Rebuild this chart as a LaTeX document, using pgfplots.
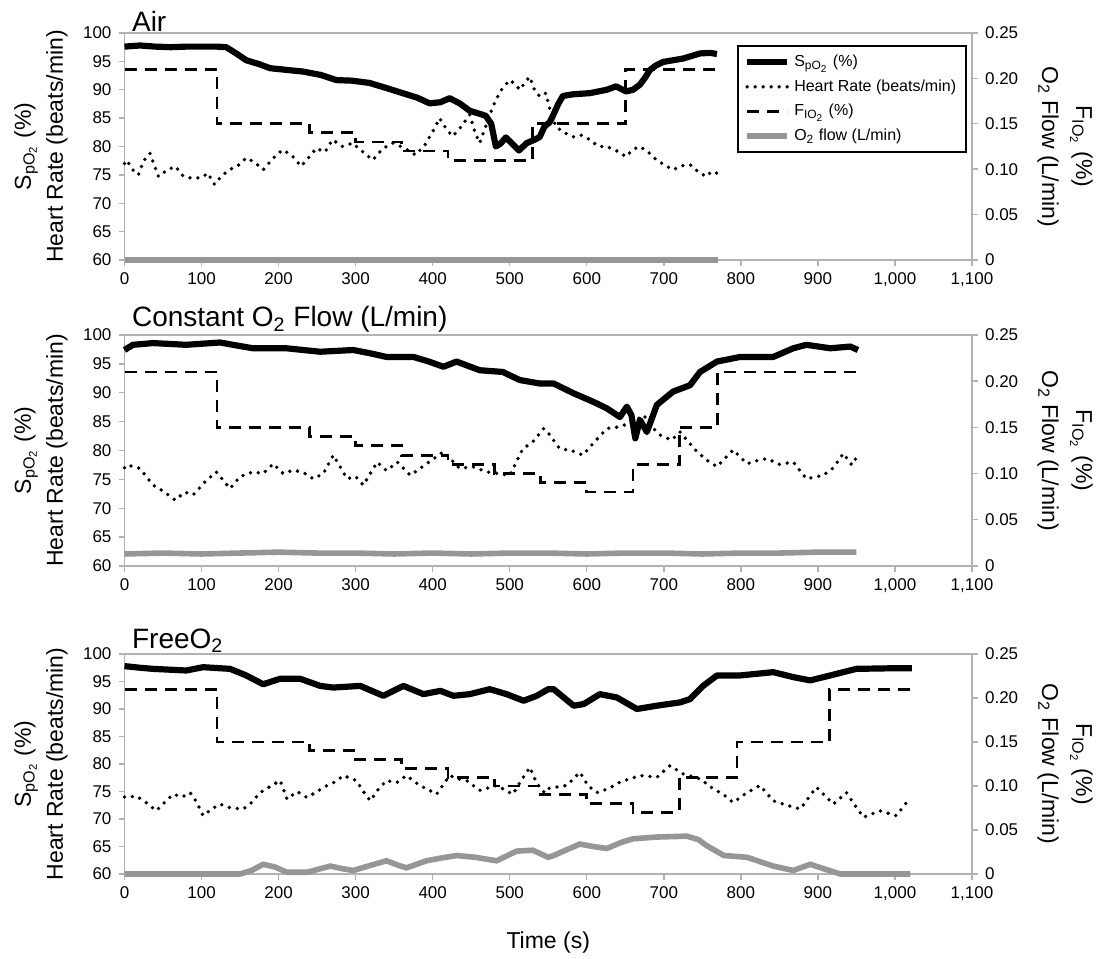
\documentclass[border=0pt]{standalone}
\usepackage{fontspec}
\setmainfont{Liberation Sans}
\usepackage{pgfplots}
\pgfplotsset{compat=1.18}

\definecolor{axgray}{RGB}{178,178,178}
\definecolor{flowgray}{RGB}{150,150,150}

\pgfplotsset{
  spo2/.style={black, line width=3.1pt, line join=round},
  hr/.style={black, line width=1.9pt, line cap=round, dash pattern=on 0pt off 4pt},
  fio2/.style={black, line width=1.4pt, dash pattern=on 6pt off 4pt},
  flow/.style={flowgray, line width=2.8pt},
  panel/.style={
    scale only axis, width=423.75pt,
    xmin=0, xmax=1100, no markers, clip=false,
    axis line style={axgray, line width=0.7pt},
    tick style={axgray, line width=0.7pt},
    major tick length=3pt, tick align=outside,
    /pgf/number format/assume math mode=true,
    ticklabel style={font=\fontsize{8.5}{10}\selectfont},
    scaled ticks=false,
    title style={at={(0,1)}, anchor=base west, inner sep=0pt, xshift=3.6pt,
      font=\fontsize{14}{16}\selectfont},
  },
  leftax/.style={panel,
    ymin=60, ymax=100,
    ytick={60,65,70,75,80,85,90,95,100},
    yticklabels={60,65,70,75,80,85,90,95,100},
    xtick={0,100,200,300,400,500,600,700,800,900,1000,1100},
    xticklabels={0,100,200,300,400,500,600,700,800,900,{1,000},{1,100}},
    xtick pos=left, ytick pos=left,
    ylabel={S\textsubscript{pO\textsubscript{2}} (\%)\\Heart Rate (beats/min)},
    every axis y label/.style={at={([xshift=-41.75pt]rel axis cs:0,0.5)},
      rotate=90, anchor=center, align=center, font=\fontsize{11.5}{16}\selectfont},
  },
  rightax/.style={panel,
    ymin=0, ymax=0.25,
    ytick={0,0.05,0.1,0.15,0.2,0.25},
    yticklabels={0,0.05,0.10,0.15,0.20,0.25},
    xtick=\empty, axis x line=none, axis y line*=right,
    ylabel={F\textsubscript{IO\textsubscript{2}} (\%)\\O\textsubscript{2} Flow (L/min)},
    every axis y label/.style={at={([xshift=46.5pt]rel axis cs:1,0.5)},
      rotate=-90, anchor=center, align=center, font=\fontsize{11.5}{17}\selectfont},
  },
}

\begin{document}
\begin{tikzpicture}
\useasboundingbox (0,0) rectangle (548.5pt,479pt);

% ---------------- Air ----------------
\begin{axis}[leftax, at={(62.25pt,349pt)}, anchor=south west, height=113.5pt,
  title={Air}, title style={yshift=-5.5pt}]
\addplot[spo2] coordinates {
 (0,97.6)(10,97.7)(20,97.8)(40,97.6)(60,97.5)(80,97.6)(100,97.6)(120,97.6)
 (132,97.5)(145,96.4)(158,95.2)(175,94.5)(189,93.8)(210,93.5)(232,93.2)
 (255,92.6)(275,91.7)(295,91.6)(318,91.2)(340,90.3)(361,89.4)(380,88.6)
 (396,87.6)(410,87.8)(422,88.5)(435,87.6)(448,86.3)(460,85.8)(469,85.4)
 (476,84.0)(482,80.0)(488,80.5)(495,81.6)(503,80.5)(512,79.3)(522,80.6)
 (534,81.3)(539,81.7)(545,83.5)(552,84.3)(556,85.4)(563,87.5)(569,88.9)
 (582,89.2)(604,89.4)(626,90.0)(638,90.6)(651,89.7)(660,90.0)(669,90.9)
 (676,92.2)(682,93.5)(690,94.3)(699,94.9)(725,95.5)(747,96.4)(760,96.5)(769,96.3)
};
\addplot[hr] coordinates {
 (0,77.0)(3,77.6)(10,76.0)(18,75.0)(25,77.5)(33,78.8)(44,74.7)(55,75.8)
 (66,76.5)(76,74.8)(87,74.4)(100,74.5)(108,75.3)(117,73.3)(126,74.8)(136,75.9)
 (147,76.6)(158,78.0)(169,77.2)(180,75.9)(192,77.8)(205,79.4)(217,78.5)
 (229,76.5)(240,78.2)(249,79.7)(260,79.0)(270,81.2)(283,80.0)(296,80.6)
 (310,79.0)(322,77.6)(335,79.6)(348,80.6)(362,79.8)(378,78.5)(390,80.3)
 (400,82.6)(409,85.0)(418,83.0)(426,81.8)(437,83.5)(448,85.6)(455,82.5)
 (461,80.6)(470,84.0)(478,87.0)(488,89.8)(500,91.7)(507,91.0)(513,90.0)
 (520,91.3)(526,92.3)(532,90.0)(539,88.8)(547,89.4)(553,86.0)(560,83.5)
 (570,82.5)(582,81.7)(593,82.0)(604,81.2)(615,80.0)(626,80.0)(638,79.3)
 (651,78.2)(660,79.5)(669,80.0)(680,79.0)(690,77.7)(700,76.8)(712,75.9)
 (723,76.6)(734,76.8)(745,75.5)(755,74.7)(762,75.6)(769,75.3)
};
\end{axis}
\begin{axis}[rightax, at={(62.25pt,349pt)}, anchor=south west, height=113.5pt,
  legend style={at={(1,1)}, anchor=north east, xshift=-2.5pt, yshift=-6pt,
    draw=black, line width=0.9pt, fill=white, font=\fontsize{8}{9}\selectfont,
    inner xsep=3pt, inner ysep=2.5pt, row sep=1pt},
  legend cell align=left,
  legend image code/.code={\draw[#1] (0pt,0pt) -- (20pt,0pt);}]
\addlegendimage{spo2}
\addlegendentry{S\textsubscript{pO\textsubscript{2}} (\%)}
\addlegendimage{hr}
\addlegendentry{Heart Rate (beats/min)}
\addplot[fio2] coordinates {
 (0,0.21)(120,0.21)(120,0.15)(240,0.15)(240,0.14)(300,0.14)(300,0.13)
 (360,0.13)(360,0.12)(420,0.12)(420,0.11)(530,0.11)(530,0.15)(650,0.15)
 (650,0.21)(770,0.21)
};
\addlegendentry{F\textsubscript{IO\textsubscript{2}} (\%)}
\addplot[flow] coordinates {(0,0)(770,0)};
\addlegendentry{O\textsubscript{2} flow (L/min)}
\end{axis}

% ---------------- Constant O2 flow ----------------
\begin{axis}[leftax, at={(62.25pt,196pt)}, anchor=south west, height=115.5pt,
  title={Constant O\textsubscript{2} Flow (L/min)}, title style={yshift=-2pt}]
\addplot[spo2] coordinates {
 (0,97.4)(11,98.3)(37,98.6)(80,98.3)(124,98.7)(145,98.2)(167,97.7)(210,97.7)
 (254,97.1)(297,97.4)(320,96.8)(340,96.2)(375,96.2)(395,95.4)(414,94.5)
 (431,95.4)(461,93.9)(491,93.6)(513,92.2)(539,91.6)(557,91.6)(583,89.9)
 (609,88.4)(626,87.3)(643,85.8)(652,87.6)(658,86.1)(663,82.1)(669,85.3)
 (678,83.2)(691,87.9)(712,90.2)(734,91.3)(747,93.6)(769,95.4)(799,96.2)
 (842,96.2)(868,97.7)(885,98.3)(916,97.7)(942,98.0)(952,97.4)
};
\addplot[hr] coordinates {
 (0,77.0)(3,77.5)(20,76.9)(37,74.0)(50,73.0)(66,71.4)(78,72.8)(89,72.3)
 (104,74.5)(119,76.3)(137,73.4)(150,75.5)(167,76.3)(180,76.0)(193,77.7)
 (206,76.0)(219,76.6)(232,76.2)(245,75.1)(258,76.0)(271,79.2)(289,75.1)
 (300,75.5)(310,74.0)(328,78.0)(340,76.5)(354,78.0)(371,75.7)(390,77.5)
 (414,79.8)(435,76.9)(452,77.2)(470,76.3)(485,76.0)(500,75.7)(517,80.3)
 (530,81.5)(544,83.8)(552,82.7)(565,80.3)(580,80.0)(595,79.2)(610,81.5)
 (626,83.8)(643,84.1)(660,85.0)(674,86.1)(685,84.0)(695,82.7)(710,81.8)
 (721,83.2)(732,81.5)(743,79.8)(756,78.3)(769,77.2)(790,80.1)(808,77.7)
 (820,78.2)(834,78.6)(850,77.6)(868,78.0)(885,75.1)(907,75.7)(920,77.0)
 (933,79.5)(944,77.5)(952,79.2)
};
\end{axis}
\begin{axis}[rightax, at={(62.25pt,196pt)}, anchor=south west, height=115.5pt]
\addplot[fio2] coordinates {
 (0,0.21)(120,0.21)(120,0.15)(240,0.15)(240,0.14)(300,0.14)(300,0.13)
 (360,0.13)(360,0.12)(420,0.12)(420,0.11)(480,0.11)(480,0.10)(540,0.10)
 (540,0.09)(600,0.09)(600,0.08)(660,0.08)(660,0.11)(720,0.11)(720,0.15)
 (770,0.15)(770,0.21)(950,0.21)
};
\addplot[flow] coordinates {
 (0,0.013)(50,0.014)(100,0.013)(150,0.014)(200,0.015)(250,0.014)(300,0.014)
 (350,0.013)(400,0.014)(450,0.013)(500,0.014)(550,0.014)(600,0.013)
 (650,0.014)(700,0.014)(750,0.013)(800,0.014)(850,0.014)(900,0.015)(950,0.015)
};
\end{axis}

% ---------------- FreeO2 ----------------
\begin{axis}[leftax, at={(62.25pt,42pt)}, anchor=south west, height=110pt,
  title={FreeO\textsubscript{2}}, title style={yshift=-3pt},
  xlabel={Time (s)},
  xlabel style={at={([yshift=-34.5pt]rel axis cs:0.5,0)}, anchor=center,
    font=\fontsize{11.5}{13}\selectfont}]
\addplot[spo2] coordinates {
 (0,97.8)(20,97.5)(37,97.3)(80,97.0)(102,97.6)(137,97.3)(158,96.1)(180,94.5)
 (202,95.5)(228,95.5)(254,94.2)(271,93.9)(306,94.2)(336,92.4)(362,94.2)
 (388,92.7)(410,93.3)(427,92.4)(448,92.7)(474,93.6)(496,92.7)(518,91.5)
 (535,92.4)(550,93.6)(557,93.6)(583,90.6)(596,90.9)(617,92.7)(639,92.1)
 (665,90.0)(691,90.6)(721,91.2)(734,91.8)(751,94.2)(769,96.1)(799,96.1)
 (842,96.7)(868,95.8)(890,95.2)(916,96.1)(950,97.3)(994,97.4)(1022,97.4)
};
\addplot[hr] coordinates {
 (0,74.0)(3,73.9)(15,74.2)(28,73.0)(41,71.5)(52,73.0)(63,74.5)(75,74.0)
 (85,74.8)(94,73.0)(102,70.6)(113,71.8)(124,72.7)(138,72.0)(154,71.8)
 (165,73.0)(176,74.8)(190,76.0)(202,77.0)(211,73.6)(224,75.0)(237,73.9)
 (250,75.0)(263,76.1)(274,76.8)(284,77.9)(301,77.0)(310,75.0)(319,73.3)
 (330,75.5)(340,77.0)(353,76.6)(366,77.9)(383,76.1)(395,75.3)(405,74.5)
 (422,77.9)(433,77.3)(444,77.0)(461,75.2)(483,76.1)(504,74.5)(515,77.0)
 (526,79.4)(535,76.5)(545,74.8)(548,75.5)(574,76.1)(591,78.5)(602,76.0)
 (613,74.8)(628,75.5)(643,76.7)(669,77.9)(691,77.6)(708,79.7)(725,78.2)
 (747,77.3)(764,75.5)(777,74.5)(790,73.0)(808,74.8)(825,76.1)(842,73.3)
 (860,72.5)(877,71.8)(898,75.8)(920,72.7)(937,74.8)(948,72.5)(959,70.3)
 (980,71.5)(1002,70.6)(1015,73.0)
};
\end{axis}
\begin{axis}[rightax, at={(62.25pt,42pt)}, anchor=south west, height=110pt]
\addplot[fio2] coordinates {
 (0,0.21)(120,0.21)(120,0.15)(240,0.15)(240,0.14)(300,0.14)(300,0.13)
 (360,0.13)(360,0.12)(420,0.12)(420,0.11)(480,0.11)(480,0.10)(540,0.10)
 (540,0.09)(600,0.09)(600,0.08)(660,0.08)(660,0.07)(720,0.07)(720,0.11)
 (795,0.11)(795,0.15)(915,0.15)(915,0.21)(1020,0.21)
};
\addplot[flow] coordinates {
 (0,0)(150,0)(165,0.004)(180,0.011)(195,0.008)(211,0.002)(237,0.002)
 (250,0.005)(267,0.009)(283,0.006)(297,0.004)(320,0.010)(340,0.015)
 (355,0.010)(366,0.007)(392,0.015)(410,0.018)(431,0.021)(455,0.019)
 (483,0.015)(509,0.026)(530,0.027)(550,0.019)(557,0.021)(575,0.028)
 (591,0.034)(610,0.031)(626,0.029)(645,0.036)(660,0.040)(691,0.042)
 (730,0.043)(745,0.039)(756,0.032)(778,0.021)(808,0.019)(825,0.014)
 (842,0.009)(868,0.004)(890,0.011)(911,0.005)(929,0)(1020,0)
};
\end{axis}
\end{tikzpicture}
\end{document}
